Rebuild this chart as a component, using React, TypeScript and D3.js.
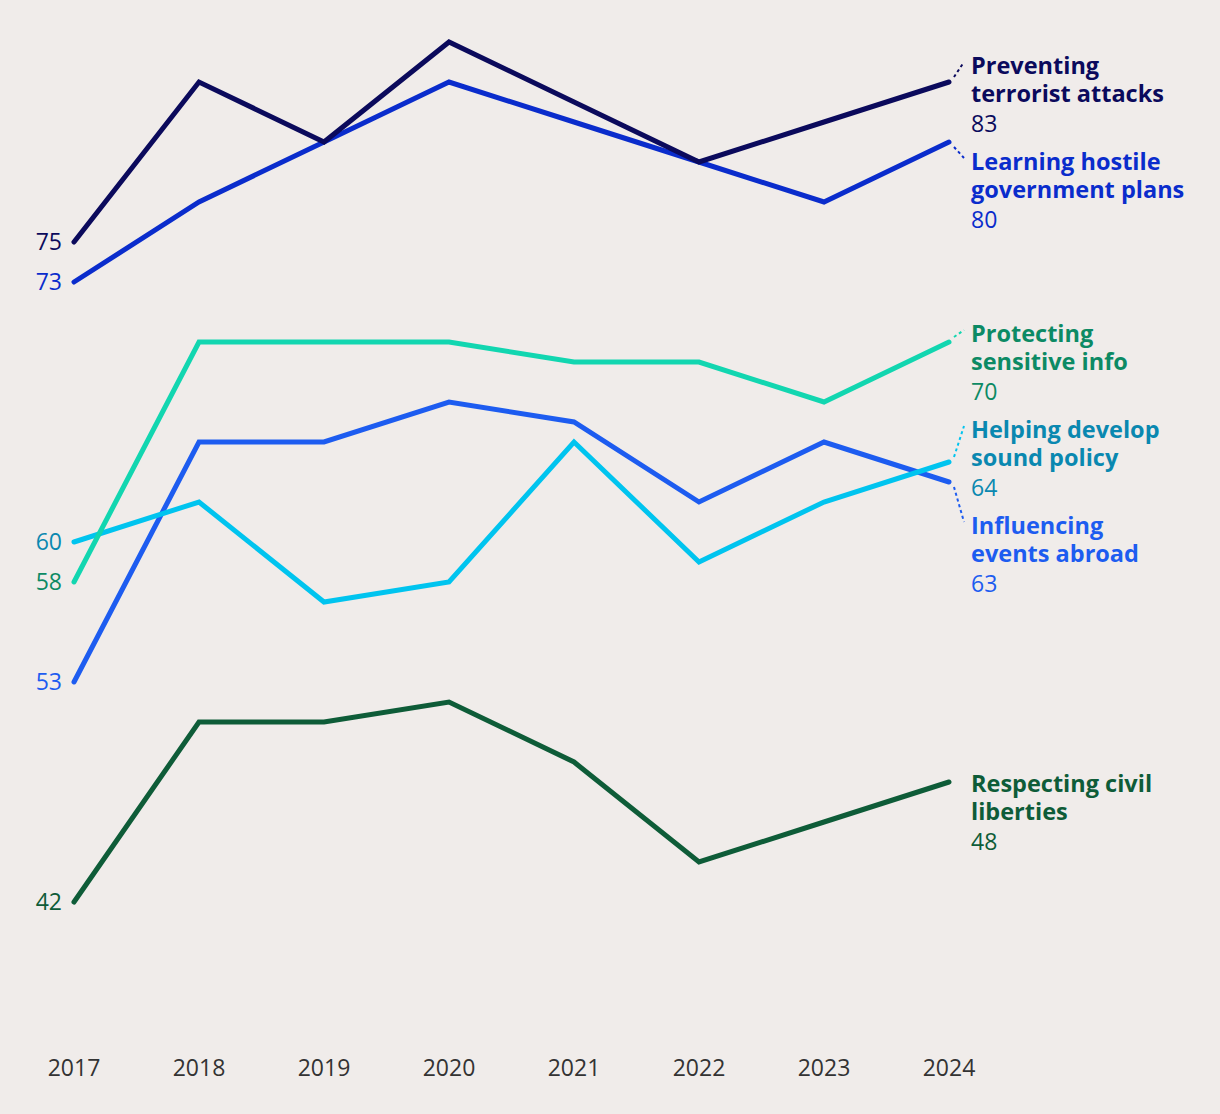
import React, { useEffect, useRef } from "react";
import * as d3 from "d3";

const years = ["2017", "2018", "2019", "2020", "2021", "2022", "2023", "2024"];

const preventing = [75, 83, 80, 85, 82, 79, 81, 83];
const learning = [73, 77, 80, 83, 81, 79, 77, 80];
const protecting = [58, 70, 70, 70, 69, 69, 67, 70];
const helping = [60, 62, 57, 58, 65, 59, 62, 64];
const influencing = [53, 65, 65, 67, 66, 62, 65, 63];
const respecting = [42, 51, 51, 52, 49, 44, 46, 48];

const seriesNames = [
  ["Preventing", "terrorist attacks"],
  ["Learning hostile", "government plans"],
  ["Protecting", "sensitive info"],
  ["Helping develop", "sound policy"],
  ["Influencing", "events abroad"],
  ["Respecting civil", "liberties"],
];

// where the first line of each end label sits, in data units
const labelAnchors = [83.4, 78.6, 70.0, 65.2, 60.4, 47.5];

interface Series {
  name: string[];
  values: number[];
  line: string;
  text: string;
  labelAt: number;
}

const App: React.FC = () => {
  const svgRef = useRef<SVGSVGElement>(null);
  const width = 1220;
  const height = 1114;

  useEffect(() => {
    document.body.style.margin = "0";
    if (!svgRef.current) return;
    const svg = d3.select(svgRef.current);
    svg.selectAll("*").remove();

    const font = "'Open Sans', sans-serif";

    const allValues = [preventing, learning, protecting, helping, influencing, respecting];
    const lineColors = ["#0b0a5c", "#0a2ccc", "#12d6b0", "#00c4ef", "#1d5cf0", "#0e5c38"];
    const textColors = ["#0b0a5c", "#0a2ccc", "#0c8a64", "#0a88b0", "#1d5cf0", "#0e5c38"];

    const series: Series[] = allValues.map((v, i) => ({
      name: seriesNames[i],
      values: v,
      line: lineColors[i],
      text: textColors[i],
      labelAt: labelAnchors[i],
    }));

    const x = d3.scalePoint<string>().domain(years).range([74, 949]);
    const y = d3.scaleLinear().domain([42, 75]).range([902, 242]);

    svg.append("rect").attr("width", width).attr("height", height).attr("fill", "#f0ecea");

    // year labels along the bottom
    svg
      .append("g")
      .selectAll("text")
      .data(years)
      .enter()
      .append("text")
      .attr("x", (d) => x(d)!)
      .attr("y", 1076)
      .attr("text-anchor", "middle")
      .style("font-family", font)
      .style("font-size", "23px")
      .style("fill", "#333")
      .text((d) => d);

    const line = d3
      .line<number>()
      .x((_, i) => x(years[i])!)
      .y((d) => y(d));

    const g = svg.append("g");

    // lines drawn bottom-up so the darker ones sit on top
    [...series].reverse().forEach((s) => {
      g.append("path")
        .attr("d", line(s.values))
        .attr("fill", "none")
        .attr("stroke", s.line)
        .attr("stroke-width", 5)
        .attr("stroke-linecap", "round")
        .attr("stroke-linejoin", "miter");
    });

    series.forEach((s) => {
      const last = s.values[s.values.length - 1];
      const lx = x(years[years.length - 1])!;
      const ly = y(last);
      const base = y(s.labelAt);
      const target = base - 12;

      // dotted connector from line end to label
      if (Math.abs(ly - target) > 6) {
        const dir = target < ly ? -1 : 1;
        svg
          .append("line")
          .attr("x1", lx + 5)
          .attr("y1", ly + dir * 5)
          .attr("x2", lx + 15)
          .attr("y2", target)
          .attr("stroke", s.line)
          .attr("stroke-width", 2)
          .attr("stroke-dasharray", "3,3");
      }

      const t = svg
        .append("text")
        .style("font-family", font)
        .style("fill", s.text);
      t.append("tspan")
        .attr("x", 971)
        .attr("y", base)
        .style("font-weight", 700)
        .style("font-size", "23.5px")
        .text(s.name[0]);
      t.append("tspan")
        .attr("x", 971)
        .attr("y", base + 28)
        .style("font-weight", 700)
        .style("font-size", "23.5px")
        .text(s.name[1]);
      t.append("tspan")
        .attr("x", 971)
        .attr("y", base + 58)
        .style("font-weight", 400)
        .style("font-size", "23px")
        .text(String(last));

      // starting value on the left
      svg
        .append("text")
        .attr("x", 62)
        .attr("y", y(s.values[0]) + 8)
        .attr("text-anchor", "end")
        .style("font-family", font)
        .style("font-size", "23px")
        .style("fill", s.text)
        .text(String(s.values[0]));
    });
  }, []);

  return <svg ref={svgRef} width={width} height={height} style={{ display: "block" }} />;
};

export default App;
